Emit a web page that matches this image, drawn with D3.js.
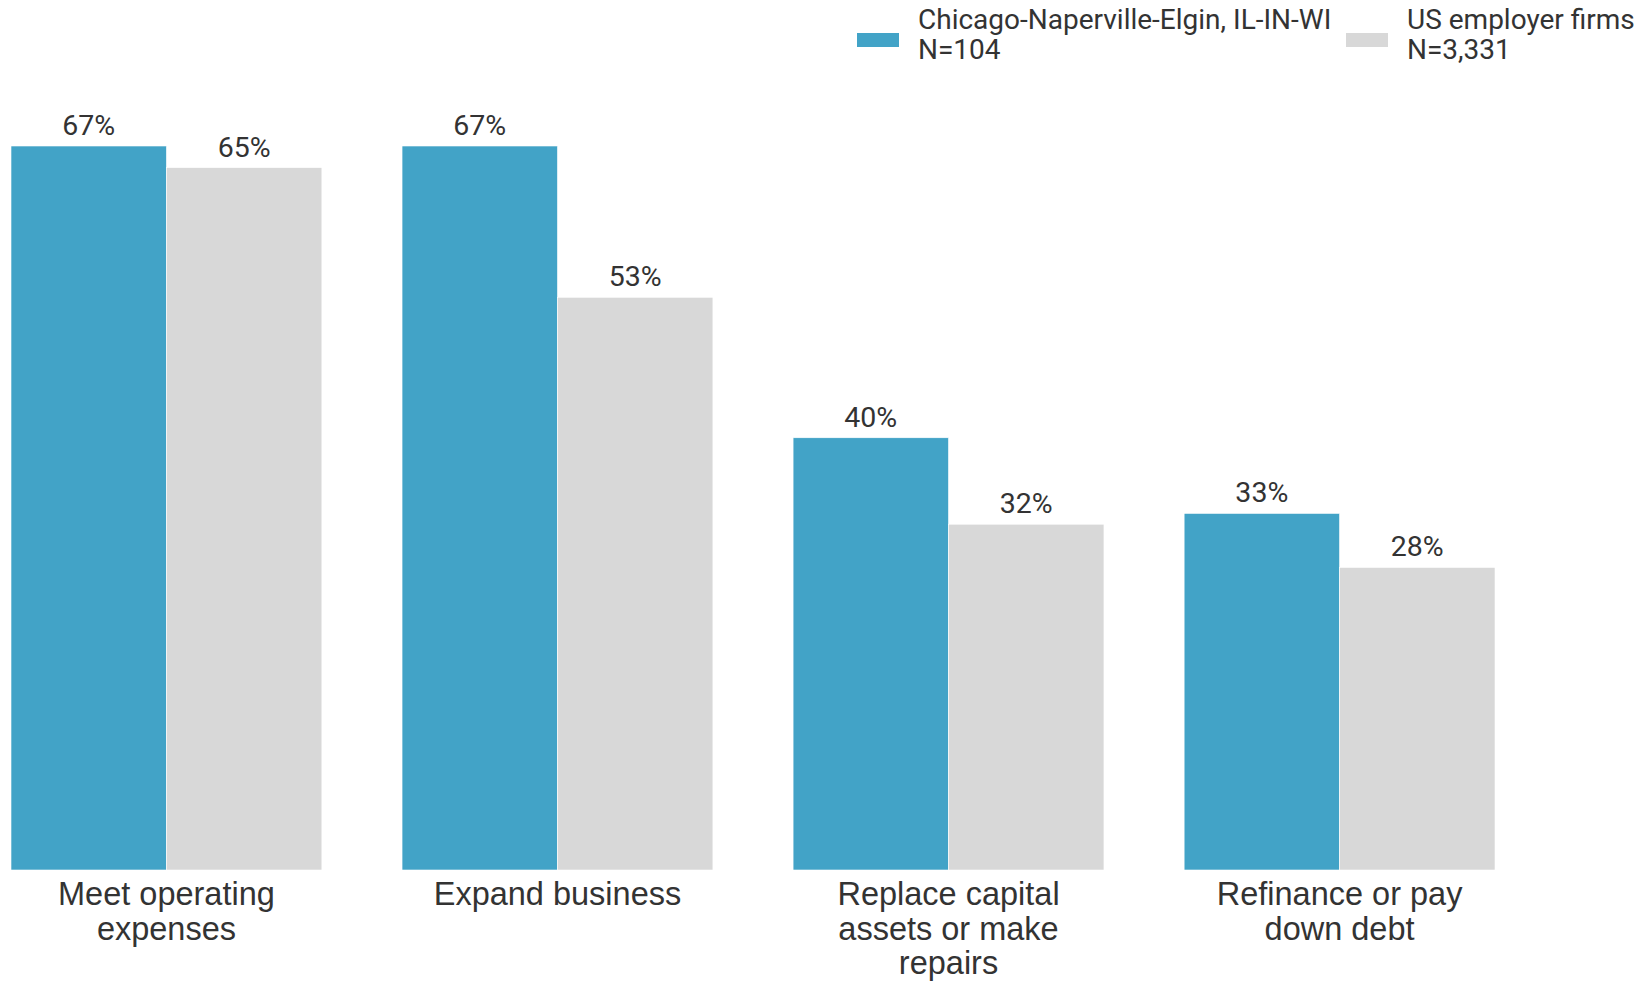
<!DOCTYPE html>
<html>
<head>
<meta charset="utf-8">
<script src="https://cdn.jsdelivr.net/npm/d3@7"></script>
<style>
  body { margin: 0; background: #fff; }
  svg { display: block; font-family: Roboto, sans-serif; }
  .value { font-size: 28.5px; fill: #333; text-anchor: middle; }
  .cat { font-family: Arial, "Liberation Sans", sans-serif; font-size: 32.5px; fill: #333; text-anchor: middle; }
  .legend text { font-size: 28px; fill: #333; }
</style>
</head>
<body>
<svg width="1642" height="982"></svg>
<script>
var categories = [
  ['Meet operating', 'expenses'],
  ['Expand business'],
  ['Replace capital', 'assets or make', 'repairs'],
  ['Refinance or pay', 'down debt']
];
var seriesNames = [
  ['Chicago-Naperville-Elgin, IL-IN-WI', 'N=104'],
  ['US employer firms', 'N=3,331']
];
var chicagoValues = [67, 67, 40, 33];
var usValues = [65, 53, 32, 28];
var colors = ['#42a3c7', '#d8d8d8'];

var svg = d3.select('svg');

var x0 = d3.scaleBand()
  .domain(d3.range(categories.length))
  .range([11, 1495])
  .paddingInner(0.205)
  .paddingOuter(0);

var x1 = d3.scaleBand()
  .domain([0, 1])
  .range([0, x0.bandwidth()]);

var y = d3.scaleLinear()
  .domain([0, 67])
  .range([870, 146]);

var rows = categories.map(function(c, i) {
  return [chicagoValues[i], usValues[i]];
});

var groups = svg.append('g')
  .selectAll('g')
  .data(rows)
  .join('g')
  .attr('transform', function(d, i) { return 'translate(' + x0(i) + ',0)'; });

groups.selectAll('rect')
  .data(function(d) { return d; })
  .join('rect')
  .attr('x', function(d, j) { return x1(j); })
  .attr('y', function(d) { return y(d); })
  .attr('width', x1.bandwidth())
  .attr('height', function(d) { return y(0) - y(d); })
  .attr('fill', function(d, j) { return colors[j]; })
  .attr('stroke', '#fff')
  .attr('stroke-width', 0.6);

groups.selectAll('text.value')
  .data(function(d) { return d; })
  .join('text')
  .attr('class', 'value')
  .attr('x', function(d, j) { return x1(j) + x1.bandwidth() / 2; })
  .attr('y', function(d) { return y(d) - 11; })
  .text(function(d) { return d + '%'; });

// category labels, wrapped by hand like the original
svg.append('g')
  .selectAll('text')
  .data(categories)
  .join('text')
  .attr('class', 'cat')
  .attr('x', function(d, i) { return x0(i) + x0.bandwidth() / 2; })
  .attr('y', 905)
  .selectAll('tspan')
  .data(function(d) { return d; })
  .join('tspan')
  .attr('x', function() { return this.parentNode.getAttribute('x'); })
  .attr('dy', function(d, k) { return k === 0 ? 0 : 34.5; })
  .text(function(d) { return d; });

// legend
var legendX = [857, 1346];
var legend = svg.append('g')
  .attr('class', 'legend')
  .selectAll('g')
  .data(seriesNames)
  .join('g')
  .attr('transform', function(d, i) { return 'translate(' + legendX[i] + ',0)'; });

legend.append('rect')
  .attr('x', 0)
  .attr('y', 33)
  .attr('width', 42)
  .attr('height', 14)
  .attr('fill', function(d, i) { return colors[i]; });

legend.append('text')
  .attr('x', 61)
  .attr('y', 29)
  .selectAll('tspan')
  .data(function(d) { return d; })
  .join('tspan')
  .attr('x', 61)
  .attr('dy', function(d, k) { return k === 0 ? 0 : 30; })
  .text(function(d) { return d; });
</script>
</body>
</html>
